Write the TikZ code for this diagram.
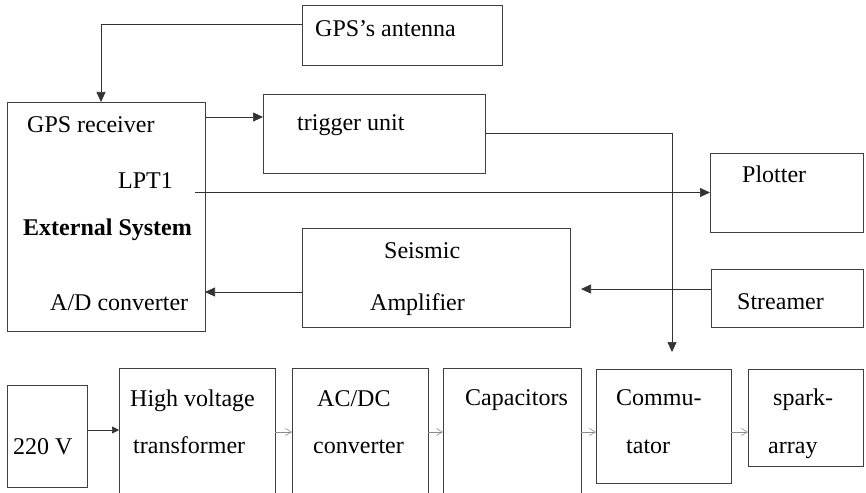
\documentclass[tikz,border=0pt]{standalone}
\usepackage{fontspec}
\setmainfont{Liberation Serif}
\usetikzlibrary{arrows.meta}
\begin{document}
\begin{tikzpicture}[x=1pt,y=-1pt,
  box/.style={draw=black!75,line width=0.7pt,rectangle,anchor=north west,inner sep=0pt,outer sep=0pt},
  lbl/.style={anchor=base west,inner sep=0pt,font=\fontsize{24}{28}\selectfont},
  arr/.style={draw=black!80,line width=0.7pt,-{Triangle[length=10pt,width=9pt]}},
  garr/.style={draw=black!45,line width=0.6pt,-{Straight Barb[length=6pt,width=7pt]}}]
\clip (0,0) rectangle (866,492);
\fill[white] (0,0) rectangle (866,492);
% boxes
\node[box,minimum width=200pt,minimum height=60pt] (ant) at (302,5) {};
\node[box,minimum width=198pt,minimum height=229pt] (ext) at (7,102) {};
\node[box,minimum width=222pt,minimum height=79pt] (trig) at (263,94) {};
\node[box,minimum width=153pt,minimum height=79pt] (plot) at (710,153) {};
\node[box,minimum width=268pt,minimum height=99pt] (amp) at (302,228) {};
\node[box,minimum width=152pt,minimum height=58pt] (str) at (711,269) {};
\node[box,minimum width=80pt,minimum height=102pt] (v220) at (7,385) {};
\node[box,minimum width=156pt,minimum height=135pt] (hv) at (119,368) {};
\node[box,minimum width=136pt,minimum height=135pt] (acdc) at (292,368) {};
\node[box,minimum width=138pt,minimum height=135pt] (cap) at (443,368) {};
\node[box,minimum width=135pt,minimum height=114pt] (com) at (596,369) {};
\node[box,minimum width=115pt,minimum height=97pt] (spark) at (748,369) {};
% texts
\node[lbl] (t1) at (315,37) {GPS’s antenna};
\node[lbl] (t2) at (27,132) {GPS receiver};
\node[lbl] (t3) at (118,188) {LPT1};
\node[lbl,font=\fontsize{24}{28}\selectfont\bfseries] (t4) at (23,235) {External System};
\node[lbl] (t5) at (50,310) {A/D converter};
\node[lbl] (t6) at (297,130) {trigger unit};
\node[lbl] (t7) at (742,182) {Plotter};
\node[lbl] (t8) at (384,258) {Seismic};
\node[lbl] (t9) at (370,310) {Amplifier};
\node[lbl] (t10) at (737,309) {Streamer};
\node[lbl] (t11) at (13,454) {220 V};
\node[lbl] (t12) at (130,406) {High voltage};
\node[lbl] (t13) at (133,453) {transformer};
\node[lbl] (t14) at (317,406) {AC/DC};
\node[lbl] (t15) at (313,453) {converter};
\node[lbl] (t16) at (465,405) {Capacitors};
\node[lbl] (t17) at (616,405) {Commu-};
\node[lbl] (t18) at (626,453) {tator};
\node[lbl] (t19) at (773,405) {spark-};
\node[lbl] (t20) at (768,453) {array};
% connectors
\draw[arr] ([yshift=-19pt]ant.north west) -| ([xshift=94pt]ext.north west);
\path ([yshift=-15pt]ext.north east) coordinate (c2);
\draw[arr] (c2) -- (c2 -| trig.west);
\draw[arr,shorten >=17pt] (trig.east) -| ([xshift=76pt]com.north west);
\path ([xshift=-10pt]ext.east) coordinate (c4);
\draw[arr] (c4 |- plot.west) -- (plot.west);
\path ([yshift=-64pt]amp.north west) coordinate (c5);
\draw[arr] (c5) -- (c5 -| ext.east);
\path ([yshift=-20pt]str.north west) coordinate (c6);
\draw[arr,shorten >=11pt] (c6) -- (c6 -| amp.east);
\path ([yshift=6pt]v220.east) coordinate (c7);
\draw[arr,-{Triangle[length=7pt,width=7pt]}] (c7) -- (c7 -| hv.west);
\path ([yshift=-64pt]hv.north east) coordinate (c8);
\draw[garr] (c8) -- (c8 -| acdc.west);
\path ([yshift=-64pt]acdc.north east) coordinate (c9);
\draw[garr] (c9) -- (c9 -| cap.west);
\path ([yshift=-64pt]cap.north east) coordinate (c10);
\draw[garr] (c10) -- (c10 -| com.west);
\path ([yshift=-63pt]com.north east) coordinate (c11);
\draw[garr] (c11) -- (c11 -| spark.west);
\end{tikzpicture}
\end{document}
